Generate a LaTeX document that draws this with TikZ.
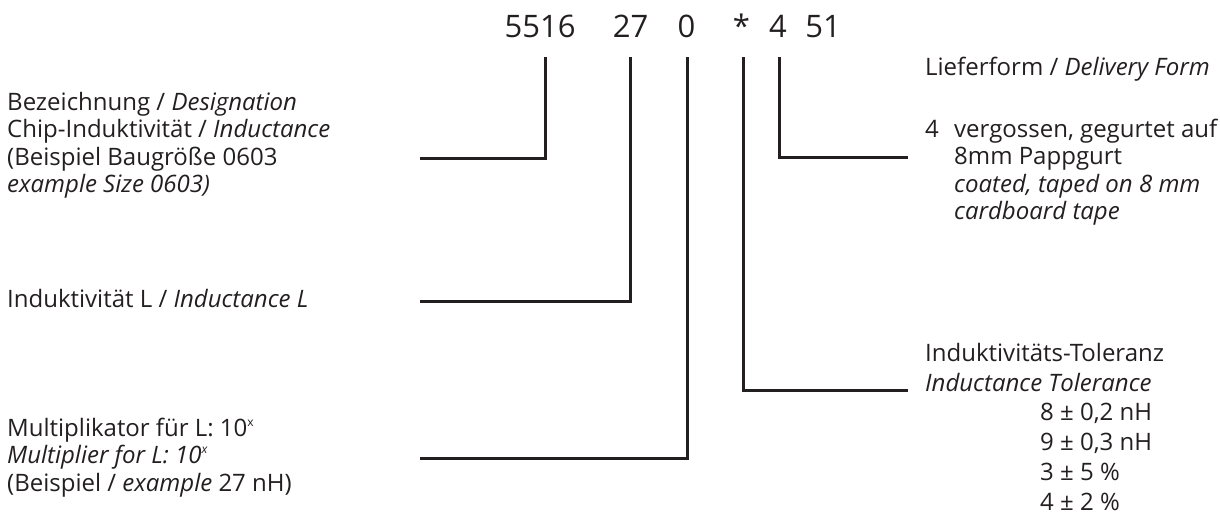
\documentclass[tikz,border=0pt]{standalone}
\usepackage{fontspec}
\setmainfont{Open Sans}
\usetikzlibrary{positioning,calc}
\definecolor{ink}{RGB}{35,31,32}
\newcommand{\supx}{\raisebox{0.75ex}{\fontsize{12}{12}\selectfont x}}

\begin{document}
\begin{tikzpicture}[x=1pt,y=-1pt,
  txt/.style={inner sep=0pt,anchor=base west,align=left,text=ink,
    font=\fontsize{24}{27.5}\selectfont},
  wide/.style={font=\fontsize{24}{30}\selectfont},
  code/.style={inner sep=0pt,anchor=base,text=ink,font=\fontsize{31}{31}\selectfont},
  lead/.style={draw=ink,line width=3pt}]
  \useasboundingbox (0,0) rectangle (1220,515);

  % type code
  \node[code] (c5516) at (540,37) {5516};
  \node[code] (c27) at (630.5,37) {27};
  \node[code] (c0) at (686.5,37) {0};
  \node[code] (cstar) at (741.5,37) {*};
  \node[code] (c4) at (778,37) {4};
  \node[code] (c51) at (823,37) {51};

  % left legend (base = last line)
  \node[txt] (desig) at (7,192.5) {Bezeichnung / \textit{Designation}\\
    Chip-Induktivität / \textit{Inductance}\\
    (Beispiel Baugröße 0603\\
    \textit{example Size 0603)}};
  \node[txt] (induct) at (7,307) {Induktivität L / \textit{Inductance L}};
  \node[txt] (multi) at (7,491) {Multiplikator für L: 10\supx\\
    \textit{Multiplier for L: 10\supx}\\
    (Beispiel / \textit{example} 27 nH)};

  % right legend
  \node[txt] (form) at (925,75) {Lieferform / \textit{Delivery Form}};
  \node[txt] (form4) at (925,137) {4};
  \node[txt] (formtxt) at (954,219.5) {vergossen, gegurtet auf\\
    8mm Pappgurt\\
    \textit{coated, taped on 8 mm}\\
    \textit{cardboard tape}};
  \node[txt,wide] (tol) at (925,391) {Induktivitäts-Toleranz\\
    \textit{Inductance Tolerance}};
  \node[txt,wide] (tolval) at (1040,510) {8 ± 0,2 nH\\
    9 ± 0,3 nH\\
    3 ± 5 \%\\
    4 ± 2 \%};

  % leader lines
  \coordinate (edesig) at (420,158);
  \coordinate (einduct) at (420,301);
  \coordinate (emulti) at (420,458);
  \coordinate (etol) at (908,390);
  \coordinate (eform) at (908,157);
  \draw[lead] ($(c5516.base)+(5,20)$) |- (edesig);
  \draw[lead] ($(c27.base)+(0,20)$) |- (einduct);
  \draw[lead] ($(c0.base)+(0.5,20)$) |- (emulti);
  \draw[lead] ($(cstar.base)+(1.5,20)$) |- (etol);
  \draw[lead] ($(c4.base)+(1,20)$) |- (eform);
\end{tikzpicture}
\end{document}
